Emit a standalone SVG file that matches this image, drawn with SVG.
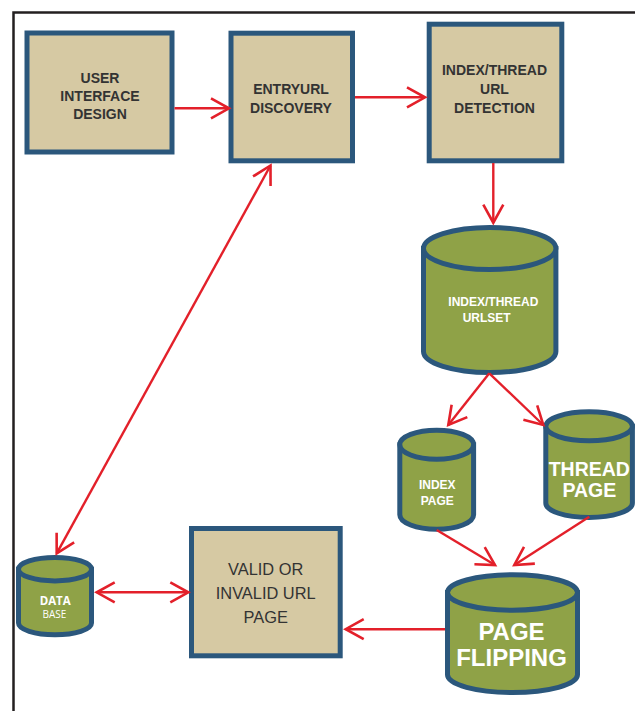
<svg xmlns="http://www.w3.org/2000/svg" width="635" height="711" viewBox="0 0 635 711">
  <defs>
    <marker id="head" markerUnits="userSpaceOnUse" markerWidth="30" markerHeight="30" viewBox="-22 -15 26 30" refX="0" refY="0" orient="auto-start-reverse">
      <path d="M-18,-10 L0,0 L-18,10" fill="none" stroke="#e3202a" stroke-width="2.6" stroke-linejoin="miter"/>
    </marker>
    <style>
      .box { fill: #d6c9a3; stroke: #2b577c; stroke-width: 5; }
      .cyl { fill: #8fa247; stroke: #2b577c; stroke-width: 5; }
      .lbl { font-family: "Liberation Sans", Arial, sans-serif; font-weight: bold; fill: #333333; text-anchor: middle; font-size: 14px; }
      .wlbl { font-family: "Liberation Sans", Arial, sans-serif; font-weight: bold; fill: #ffffff; text-anchor: middle; }
      .start { text-anchor: start; }
      .conn { fill: none; stroke: #e3202a; stroke-width: 2.4; }
    </style>
  </defs>

  <rect width="635" height="711" fill="#ffffff"/>

  <!-- outer frame -->
  <path d="M13.5,711 V12.5 H635" fill="none" stroke="#231f20" stroke-width="2.5"/>

  <g id="user-interface-design">
    <rect class="box" x="27" y="33" width="145" height="119"/>
    <text class="lbl" x="100" y="83">USER</text>
    <text class="lbl" x="100" y="101">INTERFACE</text>
    <text class="lbl" x="100" y="119">DESIGN</text>
  </g>

  <g id="entryurl-discovery">
    <rect class="box" x="231" y="33.2" width="121.5" height="127.6"/>
    <text class="lbl" x="291" y="93.5">ENTRYURL</text>
    <text class="lbl" x="291" y="112.5">DISCOVERY</text>
  </g>

  <g id="url-detection">
    <rect class="box" x="429.2" y="24.2" width="132.6" height="136.6"/>
    <text class="lbl" x="494.5" y="75">INDEX/THREAD</text>
    <text class="lbl" x="494.5" y="94.3">URL</text>
    <text class="lbl" x="494.5" y="113.3">DETECTION</text>
  </g>

  <g id="urlset">
    <path class="cyl" d="M423.5,248.5 V351.5 A66.2,21 0 0 0 555.9,351.5 V248.5 Z"/>
    <ellipse class="cyl" cx="489.7" cy="248.5" rx="66.2" ry="21"/>
    <text class="wlbl start" font-size="12" x="448.3" y="306">INDEX/THREAD</text>
    <text class="wlbl start" font-size="12" x="462.7" y="321.7">URLSET</text>
  </g>

  <g id="index-page">
    <path class="cyl" d="M399.8,444.7 V514.7 A36.9,14.5 0 0 0 473.6,514.7 V444.7 Z"/>
    <ellipse class="cyl" cx="436.7" cy="444.7" rx="36.9" ry="14.5"/>
    <text class="wlbl" font-size="12" x="437.3" y="489.3">INDEX</text>
    <text class="wlbl" font-size="12" x="437.3" y="505">PAGE</text>
  </g>

  <g id="thread-page">
    <path class="cyl" d="M545.8,426.3 V503 A43.3,14.5 0 0 0 632.4,503 V426.3 Z"/>
    <ellipse class="cyl" cx="589.1" cy="426.3" rx="43.3" ry="14.5"/>
    <text class="wlbl" font-size="19.5" x="589.3" y="476">THREAD</text>
    <text class="wlbl" font-size="19.5" x="589.3" y="496.7">PAGE</text>
  </g>

  <g id="page-flipping">
    <path class="cyl" d="M447.5,592.5 V674.8 A65,17.7 0 0 0 577.5,674.8 V592.5 Z"/>
    <ellipse class="cyl" cx="512.5" cy="592.5" rx="65" ry="17.7"/>
    <text class="wlbl" font-size="24" x="511.5" y="640">PAGE</text>
    <text class="wlbl" font-size="24" x="511.5" y="666">FLIPPING</text>
  </g>

  <g id="database">
    <path class="cyl" d="M18.5,569.2 V623 A36.5,11.7 0 0 0 91.5,623 V569.2 Z"/>
    <ellipse class="cyl" cx="55" cy="569.2" rx="36.5" ry="11.7"/>
    <text font-size="11.5" font-weight="bold" x="55.2" y="605" fill="#ffffff" text-anchor="middle" font-family="'Open Sans', sans-serif">DATA</text>
    <text font-size="10" x="54.4" y="617.5" fill="#ffffff" text-anchor="middle" font-family="'Open Sans', sans-serif">BASE</text>
  </g>

  <g id="valid-url-page">
    <rect class="box" x="191.5" y="528.5" width="148.7" height="127.3"/>
    <g font-family="'Liberation Sans', Arial, sans-serif" font-size="16.4" fill="#333333" text-anchor="middle">
      <text x="265.7" y="575">VALID OR</text>
      <text x="265.7" y="599.3">INVALID URL</text>
      <text x="265.7" y="623.3">PAGE</text>
    </g>
  </g>

  <g id="connectors">
    <line class="conn" x1="174.5" y1="108.3" x2="229" y2="108.3" marker-end="url(#head)"/>
    <line class="conn" x1="355" y1="97.3" x2="425" y2="97.3" marker-end="url(#head)"/>
    <line class="conn" x1="493.3" y1="163" x2="493.3" y2="222.7" marker-end="url(#head)"/>
    <line class="conn" x1="489.3" y1="373.3" x2="448.3" y2="425" marker-end="url(#head)"/>
    <line class="conn" x1="489.3" y1="373.3" x2="543.3" y2="425" marker-end="url(#head)"/>
    <line class="conn" x1="436.7" y1="530" x2="495" y2="565" marker-end="url(#head)"/>
    <line class="conn" x1="589.3" y1="516.7" x2="514.3" y2="565" marker-end="url(#head)"/>
    <line class="conn" x1="445" y1="629.2" x2="345.7" y2="629.2" marker-end="url(#head)"/>
    <line class="conn" x1="96.7" y1="592.3" x2="188.3" y2="592.3" marker-start="url(#head)" marker-end="url(#head)"/>
    <line class="conn" x1="56.7" y1="553.3" x2="270.5" y2="165.5" marker-start="url(#head)" marker-end="url(#head)"/>
  </g>
</svg>
